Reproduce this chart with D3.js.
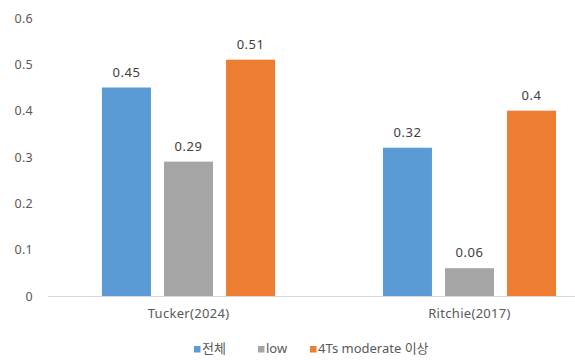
<!DOCTYPE html>
<html>
<head>
<meta charset="utf-8">
<script src="https://cdn.jsdelivr.net/npm/d3@7"></script>
<style>
  html, body { margin: 0; padding: 0; background: #fff; }
  svg { display: block; font-family: "Noto Sans", "Noto Sans CJK KR", sans-serif; }
</style>
</head>
<body>
<svg id="chart" width="575" height="360"></svg>
<script>
const categories = ["Tucker(2024)", "Ritchie(2017)"];
const seriesNames = ["전체", "low", "4Ts moderate 이상"];
const seriesColors = ["#5B9BD5", "#A5A5A5", "#ED7D31"];
const valuesAll = [0.45, 0.32];
const valuesLow = [0.29, 0.06];
const valuesModerate = [0.51, 0.4];
const yTicks = [0, 0.1, 0.2, 0.3, 0.4, 0.5, 0.6];

const seriesValues = [valuesAll, valuesLow, valuesModerate];
const rows = [];
categories.forEach((c, ci) => {
  seriesNames.forEach((s, si) => {
    rows.push({ category: c, series: s, value: seriesValues[si][ci], color: seriesColors[si] });
  });
});

const svg = d3.select("#chart");
const plot = { left: 48, right: 610, top: 18, bottom: 296 };
const textColor = "#595959";

const y = d3.scaleLinear().domain([0, 0.6]).range([plot.bottom, plot.top]);
const x0 = d3.scaleBand().domain(categories).range([plot.left, plot.right]).paddingInner(0).paddingOuter(0);
const bw = x0.bandwidth();
const x1 = d3.scaleBand().domain(seriesNames).range([bw * 0.192, bw * 0.808]).paddingInner(0.21).paddingOuter(0);

// y axis labels (no axis line, no gridlines)
const yAxis = d3.axisLeft(y).tickValues(yTicks).tickSize(0).tickPadding(0)
  .tickFormat(d => d === 0 ? "0" : d3.format(".1f")(d));
const yg = svg.append("g").attr("transform", `translate(33,0)`).call(yAxis);
yg.select(".domain").remove();
yg.selectAll("text").attr("fill", textColor).style("font-size", "12.5px")
  .style("letter-spacing", "0.3px")
  .style("font-family", '"Noto Sans", sans-serif');

// bars
svg.append("g").selectAll("rect").data(rows).join("rect")
  .attr("x", d => x0(d.category) + x1(d.series))
  .attr("width", x1.bandwidth())
  .attr("y", d => y(d.value))
  .attr("height", d => y(0) - y(d.value))
  .attr("fill", d => d.color);

// value labels
svg.append("g").selectAll("text").data(rows).join("text")
  .attr("x", d => x0(d.category) + x1(d.series) + x1.bandwidth() / 2)
  .attr("y", d => y(d.value) - 11)
  .attr("text-anchor", "middle")
  .attr("fill", "#404040")
  .style("font-size", "13px")
  .style("letter-spacing", "0.5px")
  .text(d => String(d.value));

// baseline and category labels
const xAxis = d3.axisBottom(x0).tickSize(0).tickPadding(13);
const xg = svg.append("g").attr("transform", `translate(0,${y(0)})`).call(xAxis);
xg.select(".domain").attr("stroke", "#D9D9D9").attr("d", `M${plot.left},0.5H${plot.right}`);
xg.selectAll("text").attr("fill", textColor).style("font-size", "13px")
  .style("letter-spacing", "0.3px")
  .style("font-family", '"Noto Sans", sans-serif');

// legend
const legendItems = [
  { name: seriesNames[0], color: seriesColors[0], x: 194 },
  { name: seriesNames[1], color: seriesColors[1], x: 258 },
  { name: seriesNames[2], color: seriesColors[2], x: 310 }
];
const lg = svg.append("g").attr("transform", "translate(0,353)");
lg.selectAll("rect").data(legendItems).join("rect")
  .attr("x", d => d.x).attr("y", -7).attr("width", 6.5).attr("height", 6.5)
  .attr("fill", d => d.color);
lg.selectAll("text").data(legendItems).join("text")
  .attr("x", d => d.x + 8).attr("y", 0)
  .attr("fill", textColor)
  .style("font-size", "13px")
  .text(d => d.name);
</script>
</body>
</html>
